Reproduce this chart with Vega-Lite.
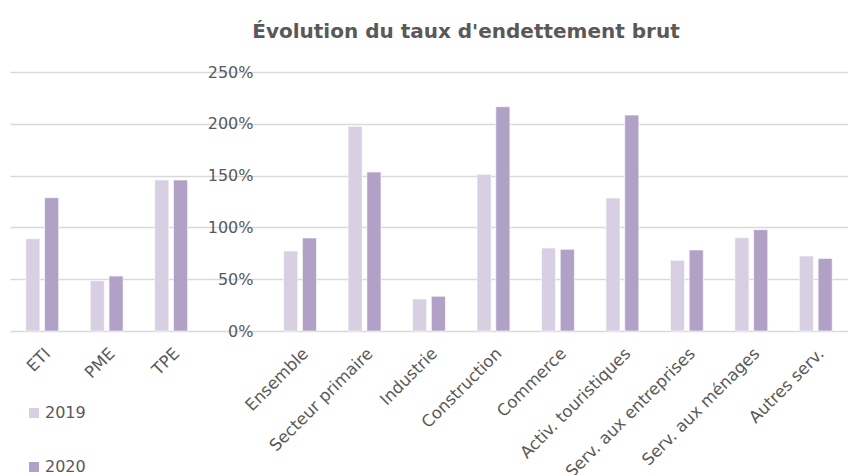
{
  "$schema": "https://vega.github.io/schema/vega-lite/v6.json",
  "width": 838,
  "height": 259,
  "autosize": {"type": "none"},
  "padding": {"left": 10, "top": 72, "right": 0, "bottom": 144},
  "background": "#ffffff",
  "title": {
    "text": "Évolution du taux d'endettement brut",
    "font": "DejaVu Sans",
    "fontSize": 20,
    "fontWeight": "bold",
    "color": "#595959",
    "anchor": "middle",
    "dx": 37,
    "offset": 6,
    "baseline": "alphabetic"
  },
  "data": {
    "values": [
      {"cat": "ETI", "year": "2019", "v": 0.89},
      {"cat": "ETI", "year": "2020", "v": 1.287},
      {"cat": "PME", "year": "2019", "v": 0.486},
      {"cat": "PME", "year": "2020", "v": 0.53},
      {"cat": "TPE", "year": "2019", "v": 1.457},
      {"cat": "TPE", "year": "2020", "v": 1.457},
      {"cat": "Ensemble", "year": "2019", "v": 0.772},
      {"cat": "Ensemble", "year": "2020", "v": 0.898},
      {"cat": "Secteur primaire", "year": "2019", "v": 1.975},
      {"cat": "Secteur primaire", "year": "2020", "v": 1.534},
      {"cat": "Industrie", "year": "2019", "v": 0.309},
      {"cat": "Industrie", "year": "2020", "v": 0.335},
      {"cat": "Construction", "year": "2019", "v": 1.512},
      {"cat": "Construction", "year": "2020", "v": 2.165},
      {"cat": "Commerce", "year": "2019", "v": 0.801},
      {"cat": "Commerce", "year": "2020", "v": 0.788},
      {"cat": "Activ. touristiques", "year": "2019", "v": 1.283},
      {"cat": "Activ. touristiques", "year": "2020", "v": 2.084},
      {"cat": "Serv. aux entreprises", "year": "2019", "v": 0.682},
      {"cat": "Serv. aux entreprises", "year": "2020", "v": 0.782},
      {"cat": "Serv. aux ménages", "year": "2019", "v": 0.90},
      {"cat": "Serv. aux ménages", "year": "2020", "v": 0.978},
      {"cat": "Autres serv.", "year": "2019", "v": 0.724},
      {"cat": "Autres serv.", "year": "2020", "v": 0.701}
    ]
  },
  "mark": {"type": "bar", "stroke": "#ffffff", "strokeWidth": 0.6},
  "encoding": {
    "x": {
      "field": "cat",
      "type": "nominal",
      "sort": null,
      "scale": {
        "domain": ["ETI", "PME", "TPE", " ", "Ensemble", "Secteur primaire", "Industrie", "Construction", "Commerce", "Activ. touristiques", "Serv. aux entreprises", "Serv. aux ménages", "Autres serv."],
        "paddingInner": 0.49,
        "paddingOuter": 0.245
      },
      "axis": {
        "title": null,
        "domain": false,
        "ticks": false,
        "grid": false,
        "labelAngle": -45,
        "labelAlign": "right",
        "labelBaseline": "top",
        "labelPadding": 14,
        "labelFont": "DejaVu Sans",
        "labelFontSize": 16.5,
        "labelColor": "#595959",
        "labelOverlap": false,
        "labelLimit": 300
      }
    },
    "xOffset": {
      "field": "year",
      "type": "nominal",
      "scale": {"paddingInner": 0.25}
    },
    "y": {
      "field": "v",
      "type": "quantitative",
      "scale": {"domain": [0, 2.5], "nice": false},
      "axis": {
        "title": null,
        "values": [0, 0.5, 1, 1.5, 2, 2.5],
        "format": ".0%",
        "domain": false,
        "ticks": false,
        "grid": true,
        "gridColor": "#d9d9d9",
        "gridWidth": 1.4,
        "offset": -245,
        "labelPadding": 2,
        "labelFont": "DejaVu Sans",
        "labelFontSize": 16,
        "labelColor": "#595959",
        "labelBaseline": "middle",
        "zindex": 0
      }
    },
    "color": {
      "field": "year",
      "type": "nominal",
      "scale": {"domain": ["2019", "2020"], "range": ["#d8cfe2", "#b1a1c7"]},
      "legend": {
        "title": null,
        "orient": "none",
        "legendX": 16,
        "legendY": 333,
        "direction": "vertical",
        "symbolType": "square",
        "symbolSize": 100,
        "symbolStrokeWidth": 0,
        "rowPadding": 38,
        "labelFont": "DejaVu Sans",
        "labelFontSize": 16,
        "labelColor": "#595959",
        "labelOffset": 3
      }
    }
  },
  "config": {
    "view": {"stroke": null}
  }
}
